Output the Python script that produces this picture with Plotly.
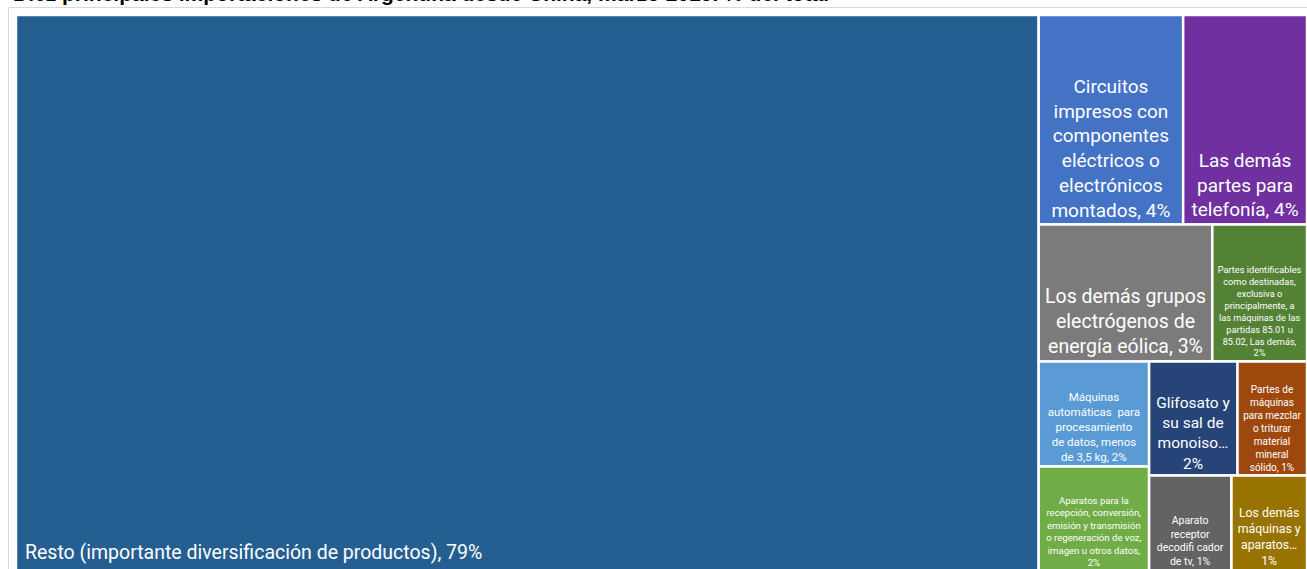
import plotly.graph_objects as go

title_text = "Diez principales importaciones de Argentina desde China, marzo 2019. % del total"

categories = [
    "Resto (importante diversificación de productos)",
    "Circuitos impresos con componentes eléctricos o electrónicos montados",
    "Las demás partes para telefonía",
    "Los demás grupos electrógenos de energía eólica",
    "Partes identificables como destinadas, exclusiva o principalmente, a las máquinas de las partidas 85.01 u 85.02, Las demás",
    "Máquinas automáticas para procesamiento de datos, menos de 3,5 kg",
    "Aparatos para la recepción, conversión, emisión y transmisión o regeneración de voz, imagen u otros datos",
    "Glifosato y su sal de monoisopropilamina",
    "Partes de máquinas para mezclar o triturar material mineral sólido",
    "Aparato receptor decodificador de tv",
    "Los demás máquinas y aparatos",
]
values = [78.9, 4.2, 3.6, 3.3, 1.8, 1.61, 1.6, 1.4, 1.1, 1.09, 1.0]
pct_labels = ["79%", "4%", "4%", "3%", "2%", "2%", "2%", "2%", "1%", "1%", "1%"]
display_text = [
    "",
    "Circuitos<br>impresos con<br>componentes<br>eléctricos o<br>electrónicos<br>montados, 4%",
    "Las demás<br>partes para<br>telefonía, 4%",
    "Los demás grupos<br>electrógenos de<br>energía eólica, 3%",
    "Partes identificables<br>como destinadas,<br>exclusiva o<br>principalmente, a<br>las máquinas de las<br>partidas 85.01 u<br>85.02, Las demás,<br>2%",
    "Máquinas<br>automáticas  para<br>procesamiento<br>de datos, menos<br>de 3,5 kg, 2%",
    "Aparatos para la<br>recepción, conversión,<br>emisión y transmisión<br>o regeneración de voz,<br>imagen u otros datos,<br>2%",
    "Glifosato y<br>su sal de<br>monoiso…<br>2%",
    "Partes de<br>máquinas<br>para mezclar<br>o triturar<br>material<br>mineral<br>sólido, 1%",
    "Aparato<br>receptor<br>decodifi cador<br>de tv, 1%",
    "Los demás<br>máquinas y<br>aparatos…<br>1%",
]
resto_label = "Resto (importante diversificación de productos), 79%"

colors = ["#255E91", "#4472C4", "#7030A0", "#7B7B7B", "#548235", "#5B9BD5",
          "#70AD47", "#264478", "#9E480E", "#636363", "#997300"]
text_sizes = [19.5, 19, 19, 19.5, 9.2, 11.5, 9.6, 15.5, 10, 10.5, 12.3]

FONT = "Roboto, Liberation Sans, sans-serif"

root_name = "Total"
ids = [root_name] + categories
labels = [root_name] + categories
parents = [""] + [root_name] * len(categories)
all_values = [sum(values)] + values
all_text = [""] + display_text
all_colors = ["white"] + colors
all_sizes = [10] + text_sizes

fig = go.Figure(go.Treemap(
    ids=ids,
    labels=labels,
    parents=parents,
    values=all_values,
    branchvalues="total",
    text=all_text,
    textinfo="text",
    textposition="bottom center",
    sort=True,
    marker=dict(colors=all_colors, line=dict(color="white", width=2.5),
                pad=dict(t=0, l=0, r=0, b=0)),
    textfont=dict(family=FONT, color="white", size=all_sizes),
    tiling=dict(pad=0, packing="squarify", squarifyratio=1),
    pathbar=dict(visible=False),
    hoverinfo="label+value",
))

fig.add_annotation(
    text=resto_label, xref="paper", yref="paper", x=0.0055, y=0.034,
    xanchor="left", yanchor="middle", showarrow=False,
    font=dict(family=FONT, size=19.5, color="white"),
)

fig.add_annotation(
    text="<b>" + title_text + "</b>", xref="paper", yref="paper",
    x=-0.0039, y=1.0, yshift=8, xanchor="left", yanchor="bottom", showarrow=False,
    font=dict(family="Liberation Sans, Arial, sans-serif", size=21, color="black"),
)

fig.add_shape(type="rect", xref="paper", yref="paper",
              x0=-0.0058, x1=1.01, y0=-0.01, y1=1.0135,
              line=dict(color="#D9D9D9", width=1), fillcolor="rgba(0,0,0,0)",
              layer="below")

fig.update_layout(
    width=1307, height=571,
    margin=dict(l=16, r=0, t=15, b=0),
    paper_bgcolor="white",
)

fig.write_html(
    "out.html",
    config={"displayModeBar": False},
    post_script="document.body.style.margin='0';document.body.style.overflow='hidden';",
)
